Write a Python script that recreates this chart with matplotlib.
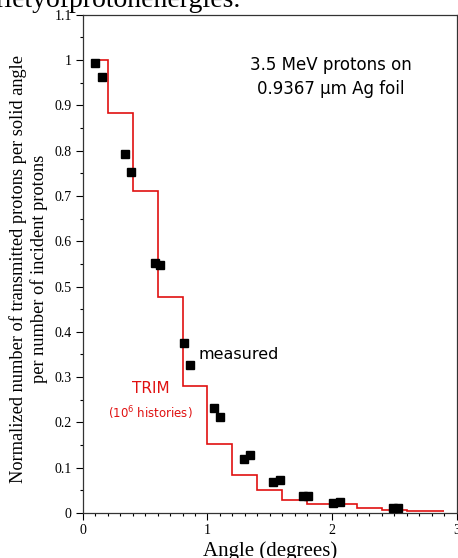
import matplotlib.pyplot as plt
from matplotlib.ticker import MultipleLocator, FormatStrFormatter

# TRIM simulation (histogram steps)
trim_edges = [0.1, 0.2, 0.4, 0.6, 0.8, 1.0, 1.2, 1.4, 1.6, 1.8, 2.2, 2.4, 2.6, 2.9]
trim_vals = [1.0, 0.882, 0.711, 0.476, 0.280, 0.152, 0.083, 0.050, 0.029, 0.020, 0.011, 0.007, 0.004]

# measured points
meas_x = [0.10, 0.15, 0.335, 0.385, 0.575, 0.615, 0.815, 0.86, 1.05, 1.10, 1.29, 1.34,
          1.53, 1.58, 1.77, 1.81, 2.01, 2.06, 2.49, 2.53]
meas_y = [0.993, 0.962, 0.792, 0.753, 0.551, 0.547, 0.376, 0.327, 0.232, 0.211, 0.119, 0.128,
          0.068, 0.073, 0.037, 0.037, 0.022, 0.024, 0.010, 0.010]

serif = 'Liberation Serif'

fig = plt.figure(figsize=(4.58, 5.58), dpi=100)
ax = fig.add_axes([0.181, 0.0806, 0.816, 0.8931])

ax.stairs(trim_vals, trim_edges, baseline=None, color='#e01010', lw=1.2)
ax.plot(meas_x, meas_y, 's', color='black', ms=6, zorder=3)

ax.set_xlim(0, 3)
ax.set_ylim(0, 1.1)
ax.xaxis.set_major_locator(MultipleLocator(1))
ax.xaxis.set_minor_locator(MultipleLocator(0.1))
ax.yaxis.set_major_locator(MultipleLocator(0.1))
ax.yaxis.set_minor_locator(MultipleLocator(0.05))
ax.yaxis.set_major_formatter(FormatStrFormatter('%g'))
ax.xaxis.set_major_formatter(FormatStrFormatter('%g'))
ax.tick_params(which='major', direction='out', length=5, width=0.8, labelsize=10, pad=3)
ax.tick_params(which='minor', direction='out', length=2.5, width=0.8)
for lab in ax.get_xticklabels() + ax.get_yticklabels():
    lab.set_family(serif)
for s in ax.spines.values():
    s.set_linewidth(0.9)
    s.set_color('#333333')

ax.set_xlabel('Angle (degrees)', family=serif, fontsize=15, labelpad=3)
ax.set_ylabel('Normalized number of transmitted protons per solid angle\nper number of incident protons',
              family=serif, fontsize=13.2, linespacing=1.2)
ax.yaxis.set_label_coords(-0.094, 0.49)

ax.text(1.99, 0.962, '3.5 MeV protons on\n0.9367 \u03bcm Ag foil', ha='center', va='center',
        fontsize=12, linespacing=1.4)
ax.text(0.925, 0.349, 'measured', ha='left', va='center', fontsize=11.5)
ax.text(0.547, 0.274, 'TRIM', ha='center', va='center', fontsize=11, color='#e01010')
ax.text(0.54, 0.221, '(10$^6$ histories)', ha='center', va='center', fontsize=8.5, color='#e01010')

# cropped slide heading above the chart
fig.text(-0.01, 1 - 7 / 558, 'rietyofprotonenergies.', family=serif, fontsize=20, va='baseline')

fig.savefig('out.png', dpi=100)
